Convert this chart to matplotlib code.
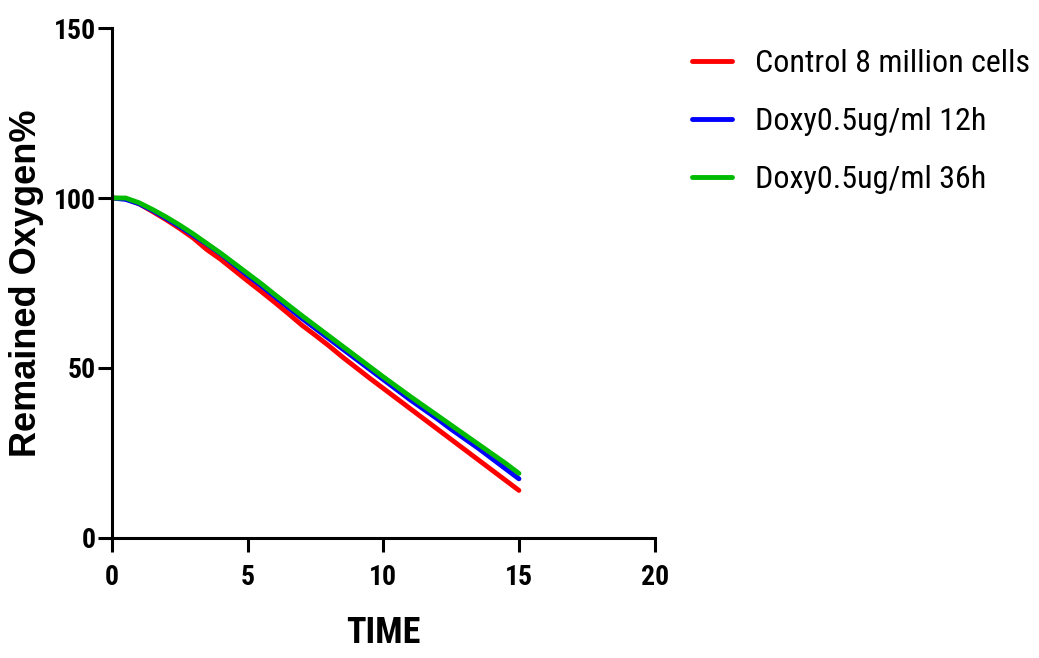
import matplotlib.pyplot as plt

time = [0, 0.5, 1, 1.5, 2, 2.5, 3, 3.5, 4, 4.5, 5, 5.5, 6, 6.5, 7, 7.5,
        8, 8.5, 9, 9.5, 10, 10.5, 11, 11.5, 12, 12.5, 13, 13.5, 14, 14.5, 15]

control = [100, 99.8, 98.3, 96.0, 93.6, 91.0, 88.2, 84.8, 82.0, 78.8, 75.6,
           72.5, 69.3, 66.0, 62.6, 59.6, 56.5, 53.2, 50.1, 47.0, 44.0, 41.0,
           38.0, 35.0, 32.0, 29.0, 26.0, 23.0, 20.0, 17.0, 14.0]
doxy_12h = [100, 99.6, 98.3, 96.3, 94.0, 91.6, 89.0, 86.4, 83.6, 80.4, 77.2,
            74.2, 71.0, 67.8, 64.6, 61.6, 58.6, 55.6, 52.6, 49.6, 46.6, 43.6,
            40.6, 37.8, 35.0, 32.0, 29.2, 26.4, 23.4, 20.4, 17.4]
doxy_36h = [100, 100, 98.6, 96.6, 94.4, 92.0, 89.4, 86.6, 83.8, 80.8, 77.8,
            74.8, 71.6, 68.5, 65.4, 62.4, 59.4, 56.4, 53.4, 50.4, 47.4, 44.5,
            41.6, 38.8, 36.0, 33.2, 30.4, 27.6, 24.8, 22.0, 19.0]

labels = ["Control 8 million cells", "Doxy0.5ug/ml 12h", "Doxy0.5ug/ml 36h"]
colors = ["#ff0000", "#0000ff", "#00bb00"]

narrow = ["Roboto Condensed", "DejaVu Sans"]

fig = plt.figure(figsize=(10.39, 6.58), dpi=100)
ax = fig.add_axes([0.1078, 0.1824, 0.5222, 0.7750])

for series, label, color in zip([control, doxy_12h, doxy_36h], labels, colors):
    ax.plot(time, series, color=color, lw=3.5, label=label, solid_capstyle="round")

ax.set_xlim(0, 20)
ax.set_ylim(0, 150)
ax.set_xticks([0, 5, 10, 15, 20])
ax.set_yticks([0, 50, 100, 150])

for side in ["top", "right"]:
    ax.spines[side].set_visible(False)
for side in ["left", "bottom"]:
    ax.spines[side].set_linewidth(2.2)
ax.tick_params(direction="out", length=10, width=2.2)
ax.tick_params(axis="x", pad=9)
ax.tick_params(axis="y", pad=1.5)

for lbl in ax.get_xticklabels() + ax.get_yticklabels():
    lbl.set_family(narrow)
    lbl.set_fontweight("bold")
    lbl.set_fontsize(20)

ax.set_xlabel("TIME", family=narrow, fontweight="bold", fontsize=26, va="center")
ax.xaxis.set_label_coords(0.5, -0.186)
ax.set_ylabel("Remained Oxygen%", family=["Liberation Sans", "DejaVu Sans"],
              fontweight="bold", fontsize=26, va="center")
ax.yaxis.set_label_coords(-0.158, 0.5)

leg = fig.legend(loc="upper left", bbox_to_anchor=(692 / 1039, 0.925), frameon=False,
                 prop={"family": narrow, "size": 23}, handlelength=1.25,
                 handletextpad=0.72, labelspacing=0.9, borderpad=0, borderaxespad=0)
for line in leg.get_lines():
    line.set_linewidth(3.5)

fig.savefig("out.png", dpi=100)
